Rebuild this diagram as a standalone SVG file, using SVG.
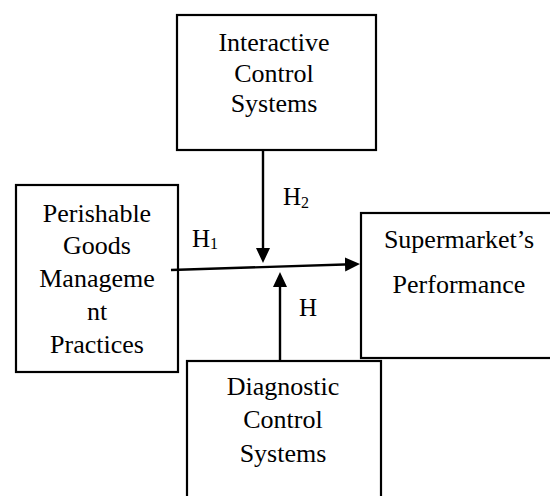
<svg xmlns="http://www.w3.org/2000/svg" width="550" height="496" viewBox="0 0 550 496">
<style>
.box{fill:#fff;stroke:#000;stroke-width:2.2}
.t{font-family:"Liberation Serif","Times New Roman",serif;font-size:26px;fill:#000;text-anchor:middle}
.h{font-family:"Liberation Serif","Times New Roman",serif;font-size:25px;fill:#000}
.sub{font-size:16px}
.c{stroke:#000;stroke-width:2.4;fill:none}
</style>
<defs>
<marker id="ah" markerUnits="userSpaceOnUse" markerWidth="16" markerHeight="15" refX="7" refY="7" orient="auto" viewBox="0 0 16 14">
<path d="M0,0 L15,7 L0,14 z" fill="#000"/>
</marker>
</defs>
<rect width="550" height="496" fill="#fff"/>
<g id="interactive">
<rect class="box" x="177" y="15" width="199" height="135"/>
<text class="t" x="274" y="51">Interactive</text>
<text class="t" x="274" y="82">Control</text>
<text class="t" x="274" y="112">Systems</text>
</g>
<g id="perishable">
<rect class="box" x="16" y="185" width="162" height="187"/>
<text class="t" x="97" y="222">Perishable</text>
<text class="t" x="97" y="254">Goods</text>
<text class="t" x="97" y="287">Manageme</text>
<text class="t" x="97" y="320">nt</text>
<text class="t" x="97" y="353">Practices</text>
</g>
<g id="supermarket">
<rect class="box" x="361" y="213" width="200" height="145"/>
<text class="t" x="459" y="248">Supermarket’s</text>
<text class="t" x="459" y="293">Performance</text>
</g>
<g id="diagnostic">
<rect class="box" x="187" y="361" width="194" height="150"/>
<text class="t" x="283" y="395">Diagnostic</text>
<text class="t" x="283" y="428">Control</text>
<text class="t" x="283" y="462">Systems</text>
</g>
<g id="connectors">
<line class="c" x1="263" y1="151" x2="263" y2="255" marker-end="url(#ah)"/>
<line class="c" x1="171" y1="270" x2="352" y2="264.3" marker-end="url(#ah)"/>
<line class="c" x1="280" y1="361" x2="280" y2="280" marker-end="url(#ah)"/>
</g>
<g id="labels">
<text class="h" x="192" y="247">H<tspan class="sub" dy="2">1</tspan></text>
<text class="h" x="283" y="205">H<tspan class="sub" dy="3">2</tspan></text>
<text class="h" x="299" y="316">H</text>
</g>
</svg>
